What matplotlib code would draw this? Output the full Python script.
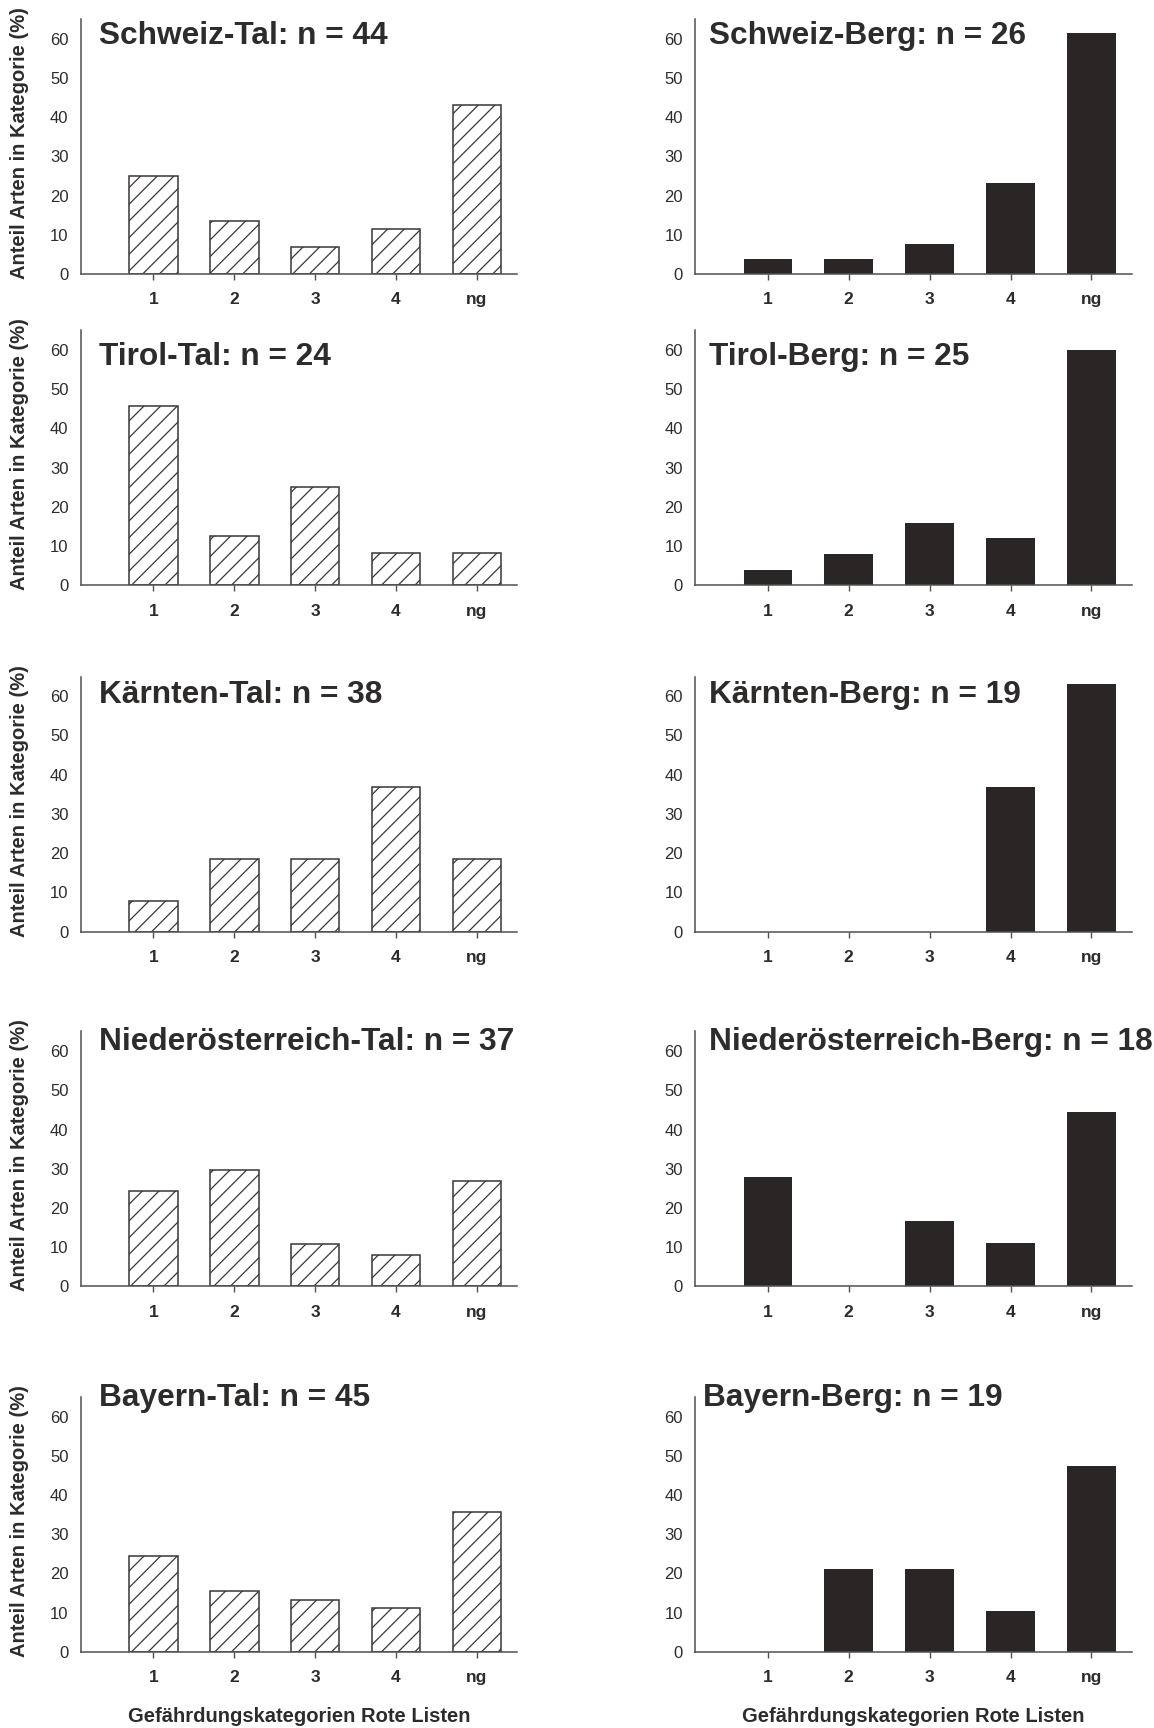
import matplotlib
matplotlib.use('Agg')
import matplotlib.pyplot as plt
import numpy as np

plt.rcParams['font.family'] = ['Liberation Sans', 'DejaVu Sans']
plt.rcParams['hatch.linewidth'] = 0.9

# Gefährdungskategorien
categories = ['1', '2', '3', '4', 'ng']
regions = ['Schweiz', 'Tirol', 'Kärnten', 'Niederösterreich', 'Bayern']
n_tal = [44, 24, 38, 37, 45]
n_berg = [26, 25, 19, 18, 19]

# Anteil Arten in Kategorie (%)
tal_schweiz = [25.0, 13.6, 6.8, 11.4, 43.2]
tal_tirol = [45.8, 12.5, 25.0, 8.3, 8.3]
tal_kaernten = [7.9, 18.4, 18.4, 36.8, 18.4]
tal_noe = [24.3, 29.7, 10.8, 8.1, 27.0]
tal_bayern = [24.4, 15.6, 13.3, 11.1, 35.6]

berg_schweiz = [3.8, 3.8, 7.7, 23.1, 61.5]
berg_tirol = [4.0, 8.0, 16.0, 12.0, 60.0]
berg_kaernten = [0.0, 0.0, 0.0, 36.8, 63.2]
berg_noe = [27.8, 0.0, 16.7, 11.1, 44.4]
berg_bayern = [0.0, 21.1, 21.1, 10.5, 47.4]

tal = [tal_schweiz, tal_tirol, tal_kaernten, tal_noe, tal_bayern]
berg = [berg_schweiz, berg_tirol, berg_kaernten, berg_noe, berg_bayern]

# layout (figure fractions / data units)
col_left = [0.0698, 0.6023]
col_width = 0.3785
row_bottom = [0.8414, 0.6612, 0.4609, 0.2555, 0.0440]
row_height = 0.1476
title_y = [58.7, 56.1, 58.3, 60.2, 62.6]
title_x_tal = [0.042] * 5
title_x_berg = [0.031, 0.031, 0.031, 0.031, 0.018]

txt = '#2e2b2b'
spine = '#505050'
dark = '#2a2626'

fig = plt.figure(figsize=(11.54, 17.28), dpi=100)
x = np.arange(len(categories))

for r in range(5):
    for c in range(2):
        ax = fig.add_axes([col_left[c], row_bottom[r], col_width, row_height])
        if c == 0:
            ax.bar(x, tal[r], width=0.6, facecolor='white', edgecolor='#3a3636',
                   hatch='//', linewidth=1.1)
            title = '%s-Tal: n = %d' % (regions[r], n_tal[r])
            tx = title_x_tal[r]
            fig.text(0.0165, row_bottom[r] + row_height / 2 + 0.002,
                     'Anteil Arten in Kategorie (%)', rotation=90,
                     ha='center', va='center', fontsize=14.5,
                     fontweight='bold', color=txt)
        else:
            ax.bar(x, berg[r], width=0.6, color=dark, linewidth=0)
            title = '%s-Berg: n = %d' % (regions[r], n_berg[r])
            tx = title_x_berg[r]
        trans = ax.get_xaxis_transform().__class__(ax.transAxes, ax.transData)
        ax.text(tx, title_y[r], title, transform=trans,
                fontsize=22.8, fontweight='bold', color=txt, ha='left', va='baseline')
        ax.set_xlim(-0.9, 4.5)
        ax.set_ylim(0, 65)
        ax.set_yticks([0, 10, 20, 30, 40, 50, 60])
        ax.set_xticks(x)
        ax.set_xticklabels(categories, fontsize=12.5, fontweight='bold', color=txt)
        ax.tick_params(axis='y', length=0, pad=8.6, labelsize=12, labelcolor=txt)
        ax.tick_params(axis='x', length=4, width=1, direction='out', pad=9, color=spine)
        for s in ['top', 'right']:
            ax.spines[s].set_visible(False)
        for s in ['left', 'bottom']:
            ax.spines[s].set_color(spine)
            ax.spines[s].set_linewidth(1.1)
        if r == 4:
            fig.text(col_left[c] + col_width / 2, 0.0066,
                     'Gefährdungskategorien Rote Listen', ha='center', va='center',
                     fontsize=14.5, fontweight='bold', color=txt)

fig.savefig('out.png', dpi=100, facecolor='white')
